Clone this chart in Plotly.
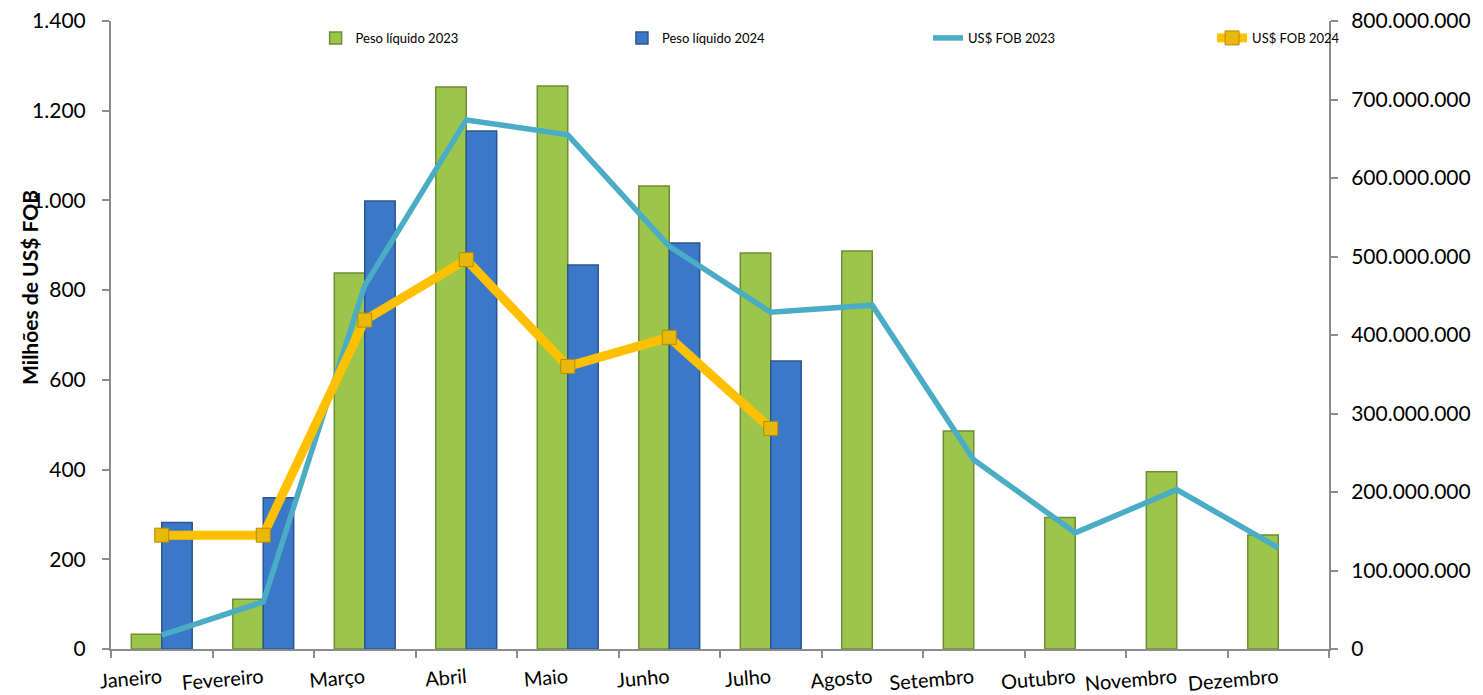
import plotly.graph_objects as go

meses = ["Janeiro", "Fevereiro", "Março", "Abril", "Maio", "Junho",
         "Julho", "Agosto", "Setembro", "Outubro", "Novembro", "Dezembro"]

peso_2023 = [33, 111, 838, 1253, 1255, 1032, 883, 887, 486, 293, 395, 254]
peso_2024 = [282, 337, 999, 1155, 856, 905, 642]

fob_2023 = [17_800_000, 60_000_000, 463_000_000, 674_000_000, 655_000_000,
            513_000_000, 429_000_000, 438_000_000, 241_000_000, 148_000_000,
            203_000_000, 129_000_000]
fob_2024 = [145_000_000, 145_000_000, 419_000_000, 496_000_000, 360_000_000,
            397_000_000, 281_000_000]

left_ticks = [0, 200, 400, 600, 800, 1000, 1200, 1400]
left_labels = ["0", "200", "400", "600", "800", "1.000", "1.200", "1.400"]
right_ticks = [i * 100_000_000 for i in range(9)]
right_labels = ["0"] + [f"{i}00.000.000" for i in range(1, 9)]

FONT = "Lato, 'Open Sans', sans-serif"
AXIS_GRAY = "#8C8C8C"

fig = go.Figure()

fig.add_trace(go.Bar(
    x=meses, y=peso_2023, name="Peso líquido 2023", legend="legend",
    marker=dict(color="#9BC64B", line=dict(color="#6F8E33", width=1.5)),
))
fig.add_trace(go.Bar(
    x=meses[:len(peso_2024)], y=peso_2024, name="Peso líquido 2024",
    legend="legend2",
    marker=dict(color="#3C78C8", line=dict(color="#2A5690", width=1.5)),
))
fig.add_trace(go.Scatter(
    x=meses, y=fob_2023, name="US$ FOB 2023", yaxis="y2", mode="lines",
    legend="legend3",
    line=dict(color="#4BACC6", width=5.5),
))
fig.add_trace(go.Scatter(
    x=meses[:len(fob_2024)], y=fob_2024, name="US$ FOB 2024", yaxis="y2",
    mode="lines+markers", legend="legend4",
    line=dict(color="#FFC000", width=9),
    marker=dict(symbol="square", size=14, color="#E8B90A",
                line=dict(color="#B88A00", width=1)),
))


def legend_box(x):
    return dict(
        x=x, y=0.973, xanchor="left", yanchor="middle",
        font=dict(size=13, family=FONT), bgcolor="rgba(0,0,0,0)",
    )


fig.update_layout(
    width=1483, height=695,
    margin=dict(l=111, r=154, t=21, b=46),
    paper_bgcolor="white", plot_bgcolor="white",
    font=dict(family=FONT, color="#000000"),
    barmode="group", bargap=0.4, bargroupgap=0,
    showlegend=True,
    legend=legend_box(0.168),
    legend2=legend_box(0.4195),
    legend3=legend_box(0.6708),
    legend4=legend_box(0.904),
    xaxis=dict(
        type="category", range=[-0.5, 11.5], tickangle=-5,
        tickson="boundaries", ticklabelstandoff=8, automargin=False,
        ticks="outside", ticklen=7, tickcolor=AXIS_GRAY, tickwidth=2,
        showline=True, linecolor=AXIS_GRAY, linewidth=2,
        showgrid=False, tickfont=dict(size=20, family=FONT),
    ),
    yaxis=dict(
        range=[0, 1400], tickvals=left_ticks, ticktext=left_labels,
        ticks="outside", ticklen=7, tickcolor=AXIS_GRAY, tickwidth=2,
        ticklabelstandoff=12, automargin=False,
        showline=True, linecolor=AXIS_GRAY, linewidth=2,
        showgrid=False, zeroline=False, tickfont=dict(size=21, family=FONT),
    ),
    yaxis2=dict(
        range=[0, 800_000_000], tickvals=right_ticks, ticktext=right_labels,
        overlaying="y", side="right", automargin=False,
        ticks="outside", ticklen=7, tickcolor=AXIS_GRAY, tickwidth=2,
        ticklabelstandoff=9,
        showline=True, linecolor=AXIS_GRAY, linewidth=2,
        showgrid=False, zeroline=False, tickfont=dict(size=21, family=FONT),
    ),
    annotations=[dict(
        text="<b>Milhões de US$ FOB</b>", textangle=-90,
        xref="paper", yref="paper", x=-0.0665, y=0.575,
        xanchor="center", yanchor="middle", showarrow=False,
        font=dict(size=21, family=FONT),
    )],
)

fig.write_html("out.html")
